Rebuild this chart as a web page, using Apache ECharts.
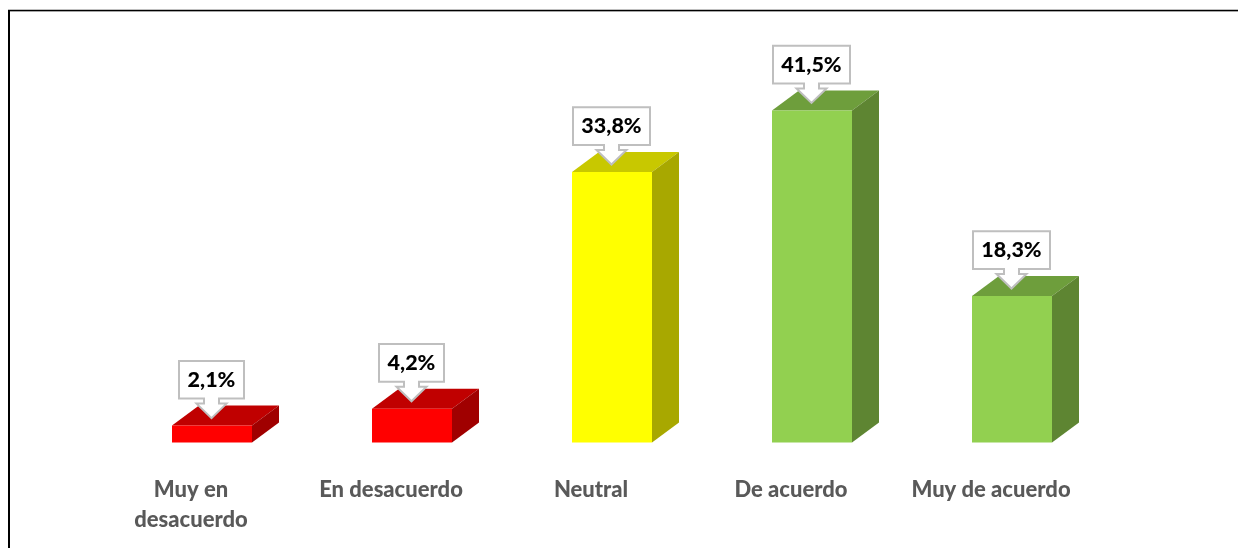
<!DOCTYPE html>
<html>
<head>
<meta charset="utf-8">
<style>html,body{margin:0;padding:0;background:#fff}#c{width:1238px;height:548px}</style>
<script src="https://cdn.jsdelivr.net/npm/echarts@6/dist/echarts.min.js"></script>
</head>
<body>
<div id="c"></div>
<script>
const categories = ['Muy en\ndesacuerdo', 'En desacuerdo', 'Neutral', 'De acuerdo', 'Muy de acuerdo'];
const values = [2.1, 4.2, 33.8, 41.5, 18.3];
const labels = ['2,1%', '4,2%', '33,8%', '41,5%', '18,3%'];
const frontColors = ['#FF0000', '#FF0000', '#FFFF00', '#92D050', '#92D050'];
const topColors = ['#C00000', '#C00000', '#C8C800', '#6E9E3C', '#6E9E3C'];
const sideColors = ['#A00000', '#A00000', '#A8A800', '#5E8532', '#5E8532'];

const chart = echarts.init(document.getElementById('c'), null, {renderer: 'canvas'});

function renderBox(params, api) {
  const i = api.value(0);
  const t = api.coord([i, api.value(1)]);
  const b = api.coord([i, 0]);
  const off = 21, w = 80, dx = 27, dy = 20;
  const l = t[0] + off - w / 2, r = l + w, top = t[1], bot = b[1];
  return {
    type: 'group',
    children: [
      {type: 'polygon', shape: {points: [[l, top], [l + dx, top - dy], [r + dx, top - dy], [r, top]]}, style: {fill: topColors[i]}},
      {type: 'polygon', shape: {points: [[r, top], [r + dx, top - dy], [r + dx, bot - dy], [r, bot]]}, style: {fill: sideColors[i]}},
      {type: 'rect', shape: {x: l, y: top, width: w, height: bot - top}, style: {fill: frontColors[i]}}
    ]
  };
}

function renderCallout(params, api) {
  const i = api.value(0);
  const t = api.coord([i, api.value(1)]);
  const cx = t[0] + 20.5, y = t[1];
  const hw = labels[i].length > 4 ? 38.5 : 32.5;
  const bt = y - 64.7, bb = y - 27, nb = y - 22, tip = y - 7.5;
  const pts = [[cx - hw, bt], [cx + hw, bt], [cx + hw, bb], [cx + 7.5, bb], [cx + 7.5, nb], [cx + 15, nb],
    [cx, tip], [cx - 15, nb], [cx - 7.5, nb], [cx - 7.5, bb], [cx - hw, bb]];
  return {
    type: 'group',
    children: [
      {type: 'polygon', shape: {points: pts}, style: {fill: '#FFFFFF', stroke: '#BFBFBF', lineWidth: 2}},
      {type: 'text', x: cx, y: y - 45.5, style: {text: labels[i], fill: '#000000', align: 'center', verticalAlign: 'middle',
        font: '900 21.5px Lato, sans-serif'}}
    ]
  };
}

chart.setOption({
  animation: false,
  backgroundColor: '#FFFFFF',
  grid: {left: 91, top: 42.4, width: 1000, height: 400},
  xAxis: {
    type: 'category',
    data: categories,
    axisLine: {show: false},
    axisTick: {show: false},
    axisLabel: {color: '#595959', fontFamily: 'Lato', fontWeight: 900, fontSize: 22, lineHeight: 30, margin: 33, interval: 0}
  },
  yAxis: {type: 'value', min: 0, max: 50, show: false, splitLine: {show: false}},
  graphic: [
    {type: 'line', shape: {x1: 9, y1: 10, x2: 9, y2: 548}, style: {stroke: '#000000', lineWidth: 2}},
    {type: 'line', shape: {x1: 8, y1: 10.5, x2: 1238, y2: 10.5}, style: {stroke: '#000000', lineWidth: 1.5}},
    {type: 'line', shape: {x1: 10, y1: 11.5, x2: 1238, y2: 11.5}, style: {stroke: '#A6A6A6', lineWidth: 1}}
  ],
  series: [
    {type: 'custom', renderItem: renderBox, encode: {x: 0, y: 1}, data: values.map((v, i) => [i, v]), z: 2},
    {type: 'custom', renderItem: renderCallout, encode: {x: 0, y: 1}, data: values.map((v, i) => [i, v]), z: 3}
  ]
});
</script>
</body>
</html>
